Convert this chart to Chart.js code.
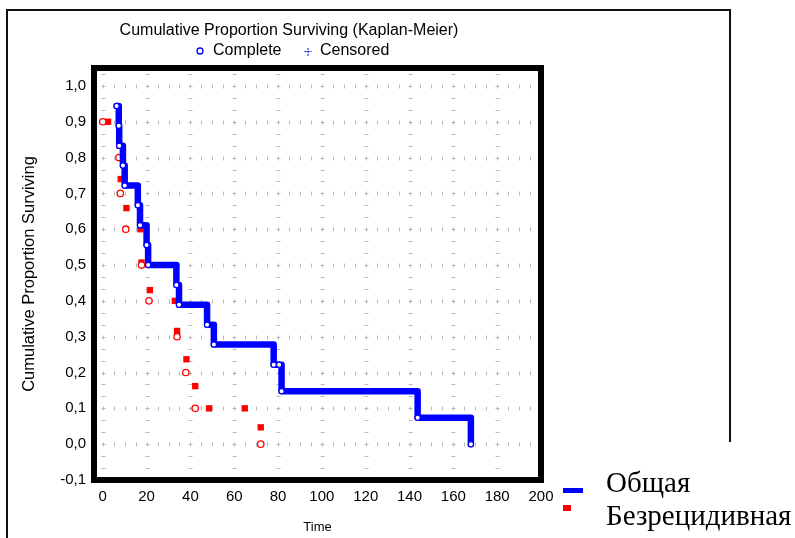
<!DOCTYPE html>
<html>
<head>
<meta charset="utf-8">
<title>Kaplan-Meier</title>
<script src="https://cdn.jsdelivr.net/npm/chart.js@4.4.1/dist/chart.umd.min.js"></script>
<style>
  html, body { margin: 0; padding: 0; background: #fff; }
  #wrap { position: relative; width: 795px; height: 538px; }
  canvas { display: block; }
</style>
</head>
<body>
<div id="wrap"><canvas id="km" width="795" height="538"></canvas></div>
<script>
// Overall survival ("Общая"): event times and cumulative proportion surviving
const overallTime = [6.3, 7.3, 7.5, 9.2, 10, 16, 17, 20, 20.7, 33.6, 34.8, 47.6, 50.7, 78, 80.5, 81.6, 143.7, 168];
const overallSurv = [0.944, 0.889, 0.833, 0.778, 0.722, 0.667, 0.611, 0.556, 0.5, 0.444, 0.389, 0.333, 0.278, 0.222, 0.222, 0.148, 0.074, 0.0];

// Relapse-free survival ("Безрецидивная"): open-circle points
const relapseCircleTime = [0, 7.4, 8, 10.5, 17.7, 21.1, 33.9, 37.9, 42.2, 72.1];
const relapseCircleSurv = [0.9, 0.8, 0.7, 0.6, 0.5, 0.4, 0.3, 0.2, 0.1, 0.0];

// Relapse-free survival: filled-square points
const relapseSquareTime = [2.4, 7.8, 8.2, 10.8, 17.2, 17.7, 21.5, 32.9, 33.9, 38.2, 42.2, 48.5, 64.8, 72.1];
const relapseSquareSurv = [0.9, 0.833, 0.74, 0.659, 0.6, 0.507, 0.43, 0.4, 0.316, 0.237, 0.162, 0.1, 0.1, 0.047];

// Axis ticks
const xTicks = [0, 20, 40, 60, 80, 100, 120, 140, 160, 180, 200];
const yTicks = [-0.1, 0.0, 0.1, 0.2, 0.3, 0.4, 0.5, 0.6, 0.7, 0.8, 0.9, 1.0];

const seriesNames = ['Общая', 'Безрецидивная'];
const chartTitle = 'Cumulative Proportion Surviving (Kaplan-Meier)';
const markerNames = ['Complete', 'Censored'];

const BLUE = '#0000ff';
const RED = '#ff0000';
const SANS = '"Liberation Sans", Arial, sans-serif';
const SERIF = '"Liberation Serif", "Times New Roman", serif';

const toPoints = (xs, ys) => xs.map((x, i) => ({ x, y: ys[i] }));

// Dotted grid of short marks, thick plot frame, titles and legends
const decor = {
  id: 'decor',
  beforeDatasetsDraw(chart) {
    const { ctx, chartArea: a, scales: { x, y } } = chart;
    ctx.save();
    ctx.strokeStyle = '#b8b8b8';
    ctx.lineWidth = 1;
    ctx.beginPath();
    // rows: small vertical marks every 5 time units
    yTicks.forEach(v => {
      if (v <= y.min || v >= y.max) return;
      const py = Math.round(y.getPixelForValue(v)) + 0.5;
      for (let t = 0; t < x.max; t += 5) {
        const px = Math.round(x.getPixelForValue(t)) + 0.5;
        ctx.moveTo(px, py - 2); ctx.lineTo(px, py + 2);
      }
    });
    // columns: small horizontal marks every third of a tick step
    xTicks.forEach(t => {
      if (t <= x.min || t >= x.max) return;
      const px = Math.round(x.getPixelForValue(t)) + 0.5;
      for (let k = 0; ; k++) {
        const v = y.min + k * 0.1 / 3;
        if (v >= y.max) break;
        const py = Math.round(y.getPixelForValue(v)) + 0.5;
        if (py >= a.bottom - 2) continue;
        ctx.moveTo(px - 2, py); ctx.lineTo(px + 2, py);
      }
    });
    ctx.stroke();
    ctx.restore();
  },
  afterDatasetsDraw(chart) {
    const { ctx, chartArea: a } = chart;
    ctx.save();
    ctx.strokeStyle = '#000';
    ctx.lineWidth = 6;
    ctx.strokeRect(a.left, a.top, a.right - a.left, a.bottom - a.top);
    ctx.restore();
  },
  afterDraw(chart) {
    const { ctx } = chart;
    ctx.save();
    // outer frame
    ctx.strokeStyle = '#111';
    ctx.lineWidth = 2;
    ctx.beginPath();
    ctx.moveTo(7, 538); ctx.lineTo(7, 10); ctx.lineTo(730, 10); ctx.lineTo(730, 442);
    ctx.stroke();

    // title
    ctx.fillStyle = '#000';
    ctx.font = '16px ' + SANS;
    ctx.textAlign = 'center';
    ctx.textBaseline = 'middle';
    ctx.fillText(chartTitle, 289, 31);

    // marker legend
    ctx.textAlign = 'left';
    ctx.beginPath();
    ctx.arc(200, 51, 3, 0, Math.PI * 2);
    ctx.fillStyle = '#fff'; ctx.fill();
    ctx.strokeStyle = BLUE; ctx.lineWidth = 1.3; ctx.stroke();
    ctx.fillStyle = '#000';
    ctx.fillText(markerNames[0], 213, 51);
    ctx.strokeStyle = BLUE; ctx.lineWidth = 1;
    ctx.setLineDash([2, 1]);
    ctx.beginPath();
    ctx.moveTo(304.5, 51.5); ctx.lineTo(311.5, 51.5);
    ctx.moveTo(308, 48); ctx.lineTo(308, 56);
    ctx.stroke();
    ctx.setLineDash([]);
    ctx.fillText(markerNames[1], 320, 51);

    // series legend
    ctx.fillStyle = BLUE;
    ctx.fillRect(563, 488, 20, 5);
    ctx.fillStyle = RED;
    ctx.fillRect(563, 505, 8, 6);
    ctx.fillStyle = '#000';
    ctx.font = '29px ' + SERIF;
    ctx.textBaseline = 'alphabetic';
    ctx.fillText(seriesNames[0], 606, 492);
    ctx.fillText(seriesNames[1], 606, 525);
    ctx.restore();
  }
};

const fmt = v => (Math.abs(v) < 1e-9 ? 0 : v).toFixed(1).replace('.', ',');

new Chart(document.getElementById('km'), {
  type: 'scatter',
  data: {
    datasets: [
      {
        label: seriesNames[0],
        type: 'line',
        data: toPoints(overallTime, overallSurv),
        stepped: 'before',
        borderColor: BLUE,
        borderWidth: 6.5,
        borderJoinStyle: 'round',
        borderCapStyle: 'round',
        fill: false,
        pointStyle: 'circle',
        pointRadius: 2.6,
        pointBorderWidth: 1.2,
        pointBackgroundColor: '#fff',
        pointBorderColor: BLUE,
        showLine: true
      },
      {
        label: seriesNames[1],
        data: toPoints(relapseCircleTime, relapseCircleSurv),
        showLine: false,
        pointStyle: 'circle',
        pointRadius: 3.2,
        pointBorderWidth: 1.3,
        pointBackgroundColor: '#fff',
        pointBorderColor: RED
      },
      {
        label: seriesNames[1] + ' ',
        data: toPoints(relapseSquareTime, relapseSquareSurv),
        showLine: false,
        pointStyle: 'rect',
        pointRadius: 4.5,
        pointBorderWidth: 0,
        pointBackgroundColor: RED,
        pointBorderColor: RED
      }
    ]
  },
  options: {
    responsive: false,
    animation: false,
    devicePixelRatio: 1,
    layout: { padding: { left: 0, right: 254, top: 68, bottom: 0 } },
    plugins: { legend: { display: false }, title: { display: false }, tooltip: { enabled: false } },
    scales: {
      x: {
        type: 'linear',
        min: -4,
        max: 200,
        grid: { display: false, drawTicks: false },
        border: { display: false },
        afterBuildTicks: s => { s.ticks = xTicks.map(v => ({ value: v })); },
        afterFit: s => { s.height = 58; },
        ticks: {
          autoSkip: false,
          maxRotation: 0,
          padding: 8,
          color: '#000',
          font: { family: SANS, size: 15 },
          callback: v => String(v)
        },
        title: {
          display: true,
          text: 'Time',
          color: '#000',
          font: { family: SANS, size: 13 },
          padding: { top: 0, bottom: 3 }
        }
      },
      y: {
        type: 'linear',
        min: -0.1,
        max: 1.05,
        grid: { display: false, drawTicks: false },
        border: { display: false },
        afterBuildTicks: s => { s.ticks = yTicks.map(v => ({ value: v })); },
        afterFit: s => { s.width = 94; },
        ticks: {
          autoSkip: false,
          padding: 8,
          color: '#000',
          font: { family: SANS, size: 15 },
          callback: v => fmt(v)
        },
        title: {
          display: true,
          text: 'Cumulative Proportion Surviving',
          color: '#000',
          font: { family: SANS, size: 16.5 },
          padding: { top: 20, bottom: 0 }
        }
      }
    }
  },
  plugins: [decor]
});
</script>
</body>
</html>
